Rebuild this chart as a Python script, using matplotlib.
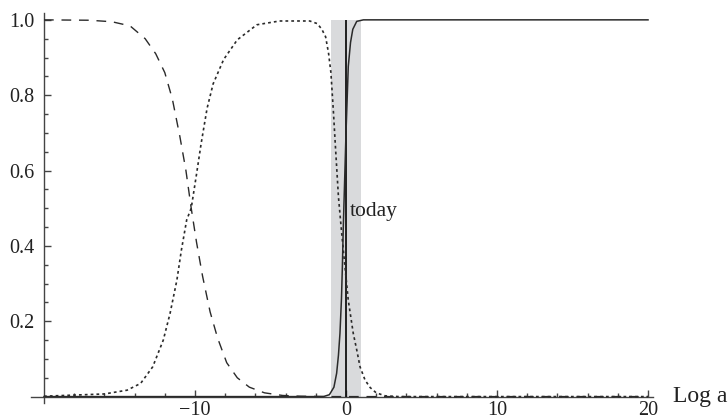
import matplotlib
matplotlib.use("Agg")
import matplotlib.pyplot as plt
from matplotlib.ticker import FixedLocator
from matplotlib import font_manager

nombres = {f.name for f in font_manager.fontManager.ttflist}
serif = [n for n in ['Liberation Serif', 'Tinos', 'Times New Roman', 'STIXGeneral', 'DejaVu Serif'] if n in nombres]
plt.rcParams['font.family'] = 'serif'
plt.rcParams['font.serif'] = serif
plt.rcParams['lines.scale_dashes'] = False

# radiacion (linea de trazos)
x_rad = [-20, -17, -15.5, -14.3, -13.3, -12.6, -12.0, -11.5, -11.0, -10.6, -10.25,
         -9.9, -9.5, -9.0, -8.5, -7.9, -7.2, -6.4, -5.4, -4.2, -3.0, -1.0, 20]
y_rad = [1.0, 0.999, 0.995, 0.984, 0.95, 0.91, 0.86, 0.79, 0.69, 0.60, 0.50,
         0.41, 0.32, 0.225, 0.155, 0.09, 0.05, 0.025, 0.010, 0.003, 0.001, 0.0, 0.0]

# materia (linea punteada)
x_mat = [-20, -18, -16, -14.5, -13.6, -12.8, -12.1, -11.65, -11.2, -10.9, -10.55, -10.25,
         -9.9, -9.6, -9.2, -8.8, -8.1, -7.2, -5.9, -4.4, -2.4, -1.9, -1.6, -1.35,
         -1.15, -1.0, -0.84, -0.68, -0.5, -0.3, -0.07, 0.15, 0.48, 0.71, 0.93,
         1.26, 1.6, 2.0, 2.6, 3.5, 20]
y_mat = [0.001, 0.004, 0.007, 0.017, 0.035, 0.079, 0.15, 0.221, 0.309, 0.389, 0.469, 0.50,
         0.59, 0.67, 0.765, 0.83, 0.895, 0.947, 0.987, 0.997, 0.997, 0.99, 0.975, 0.955,
         0.91, 0.86, 0.76, 0.65, 0.53, 0.44, 0.345, 0.256, 0.168, 0.124, 0.079,
         0.044, 0.024, 0.01, 0.002, 0.0, 0.0]

# energia oscura (linea continua)
x_de = [-20, -1.5, -1.1, -0.8, -0.62, -0.5, -0.4, -0.3, -0.24, -0.18, -0.1, 0.0,
        0.15, 0.3, 0.45, 0.71, 1.15, 20]
y_de = [0.0, 0.0, 0.005, 0.025, 0.062, 0.11, 0.168, 0.26, 0.345, 0.45, 0.56, 0.70,
        0.876, 0.94, 0.975, 0.996, 1.0, 1.0]

hoy = 0.0
banda = (-1.0, 1.0)

W, H = 728, 419
fig = plt.figure(figsize=(W / 100, H / 100), dpi=100)
ax = fig.add_axes([31 / W, 1 - 403 / H, (653 - 31) / W, (403 - 12.7) / H])
ax.set_xlim(-20.86, 20.33)
ax.set_ylim(-0.017, 1.019)

gris = '#444444'
linea = '#2a2a2a'

ax.fill_between(banda, 0, 1, color='#d9dadc', lw=0, zorder=1)
ax.vlines(hoy, 0, 1, color='#111111', lw=1.3, zorder=3)

ax.plot(x_rad, y_rad, color=linea, lw=1.0, dashes=(7.0, 5.6), zorder=4)
ax.plot(x_mat, y_mat, color=linea, lw=1.2, dashes=(2.0, 2.2), zorder=4)
ax.plot(x_de, y_de, color=linea, lw=1.1, zorder=4)

ax.text(0.25, 0.49, 'today', fontsize=15.5, va='center', ha='left', color='#222222')
ax.text(21.66, -0.015, 'Log a', fontsize=17, va='baseline', ha='left', color='#222222',
        clip_on=False)

for s in ['top', 'right']:
    ax.spines[s].set_visible(False)
ax.spines['left'].set_position(('data', -20))
ax.spines['bottom'].set_position(('data', 0))
for s in ['left', 'bottom']:
    ax.spines[s].set_color(gris)
    ax.spines[s].set_linewidth(1.0)

ax.xaxis.set_major_locator(FixedLocator([-10, 0, 10, 20]))
ax.xaxis.set_minor_locator(FixedLocator([v for v in range(-18, 21, 2) if v % 10 != 0]))
ax.set_xticklabels(['\u221210', '0', '10', '20'])
ax.yaxis.set_major_locator(FixedLocator([0.2, 0.4, 0.6, 0.8, 1.0]))
ax.yaxis.set_minor_locator(FixedLocator([v / 20 for v in range(1, 20) if v % 4 != 0]))
ax.set_yticklabels(['0.2', '0.4', '0.6', '0.8', '1.0'])

ax.tick_params(which='both', direction='in', color=gris, width=1.0, labelsize=14.5,
               labelcolor='#222222')
ax.tick_params(which='major', length=5)
ax.tick_params(which='minor', length=3)
ax.tick_params(axis='y', pad=7)
ax.tick_params(axis='x', pad=3.5)

fig.savefig('out.png', dpi=100)
